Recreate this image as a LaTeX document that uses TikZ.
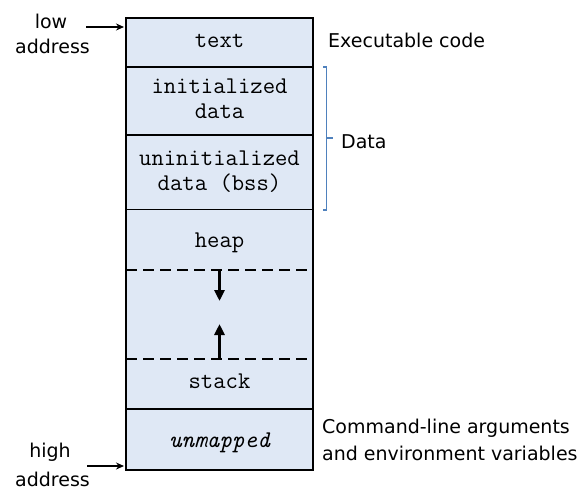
\documentclass[tikz,border=0pt]{standalone}
\usepackage{fontspec}
\setmainfont{DejaVu Sans}
\usetikzlibrary{arrows.meta}
\definecolor{segfill}{HTML}{DFE8F5}
\definecolor{bracecol}{HTML}{4F81BD}
\begin{document}
\begin{tikzpicture}[x=1pt,y=-1pt,
  seg/.style={draw=black,line width=1.8pt,fill=segfill,minimum width=187pt,inner sep=0pt,outer sep=0pt,anchor=north west},
  mono/.style={font=\fontsize{24}{25}\selectfont\ttfamily,inner sep=0pt,anchor=base},
  lab/.style={font=\fontsize{19}{27}\selectfont,align=left,inner sep=0pt,anchor=base west},
  addr/.style={font=\fontsize{19}{25}\selectfont,inner sep=0pt,anchor=base},
  growarrow/.style={line width=3pt,-{Triangle[length=11pt,width=10pt]}},
  ptr/.style={line width=1.2pt,-{Stealth[length=8pt,width=7pt]}},
  dashline/.style={line width=1.8pt,dash pattern=on 11pt off 6pt}]
\useasboundingbox (0,0) rectangle (586,491);
% segments
\node[seg,minimum height=49pt] (text) at (126,18) {};
\node[seg,minimum height=68pt] (init) at (126,67) {};
\node[seg,minimum height=75pt] (uninit) at (126,135) {};
\node[seg,draw=none,minimum height=199pt] (dyn) at (126,210) {};
\node[seg,minimum height=61pt] (unmap) at (126,409) {};
\draw[line width=2.4pt] (text.north west) rectangle (unmap.south east);
\draw[line width=2.4pt] (unmap.south west) -- (unmap.south east);
% texts
\node[mono] (ttext) at (219.5,47) {text};
\node[mono] (tinit1) at (219.5,93) {initialized};
\node[mono] (tinit2) at (219.5,118) {data};
\node[mono] (tun1) at (219.5,165) {uninitialized};
\node[mono] (tun2) at (219.5,190) {data (bss)};
\node[mono] (heap) at (219.5,247) {heap};
\node[mono] (stack) at (219.5,388) {stack};
\node[mono,font=\fontsize{24}{25}\selectfont\ttfamily\itshape] (unm) at (219.5,447) {unmapped};
% dashed boundaries
\coordinate (h1) at (126,270); \coordinate (h2) at (313,270);
\coordinate (s1) at (126,359); \coordinate (s2) at (313,359);
\draw[dashline] (h1) -- (h2);
\draw[dashline] (s1) -- (s2);
\coordinate (ha) at (219.5,270); \coordinate (hb) at (219.5,301);
\coordinate (sa) at (219.5,359); \coordinate (sb) at (219.5,324);
\draw[growarrow] (ha) -- (hb);
\draw[growarrow] (sa) -- (sb);
% address labels
\node[addr] (low1) at (51,28) {low};
\node[addr] (low2) at (52.5,53) {address};
\coordinate (lowa) at (86,27);
\coordinate (lowend) at (124,27);
\draw[ptr] (lowa) -- (lowend);
\node[addr] (high1) at (50,457) {high};
\node[addr] (high2) at (52.5,486) {address};
\coordinate (higha) at (87,466);
\coordinate (highend) at (124,466);
\draw[ptr] (higha) -- (highend);
% right labels
\node[lab] (exe) at (328,47) {Executable code};
\coordinate (b1) at (323,67); \coordinate (b2) at (326.5,67);
\coordinate (b3) at (326.5,210); \coordinate (b4) at (323,210);
\coordinate (bm) at (326.5,138); \coordinate (bt) at (333,138);
\draw[bracecol,line width=1.3pt] (b1) -- (b2) -- (b3) -- (b4);
\draw[bracecol,line width=1.3pt] (bm) -- (bt);
\node[lab] (data) at (341,148) {Data};
\node[lab] (cmd1) at (322,433) {Command-line arguments};
\node[lab] (cmd2) at (322,460) {and environment variables};
\end{tikzpicture}
\end{document}
